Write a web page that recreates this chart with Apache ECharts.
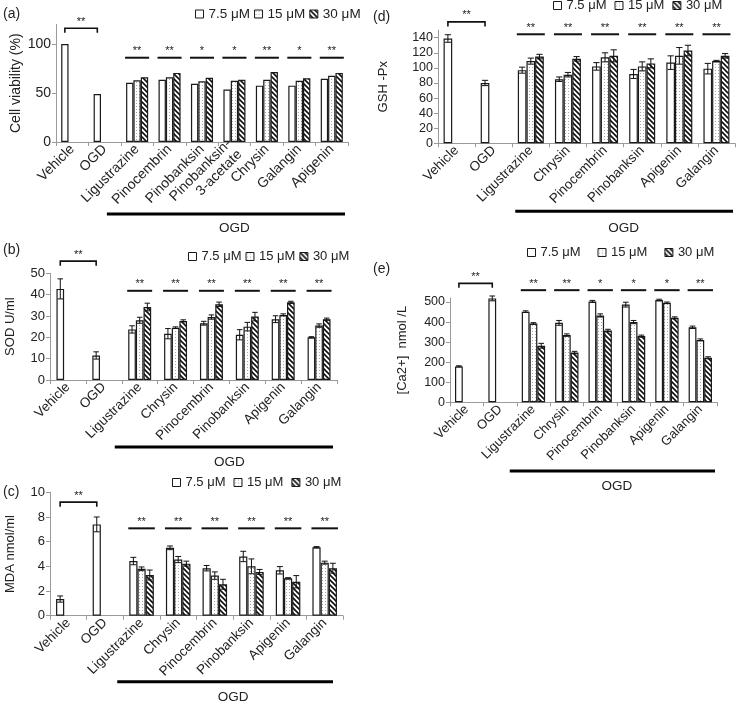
<!DOCTYPE html>
<html><head><meta charset="utf-8">
<script src="https://cdn.jsdelivr.net/npm/echarts@6/dist/echarts.min.js"></script>
<style>html,body{margin:0;padding:0;background:#fff}#c{width:736px;height:703px}</style>
</head><body><div id="c"></div>
<script>
const FONT = '"Liberation Sans", Arial, sans-serif';
const doseNames = ['7.5 μM', '15 μM', '30 μM'];
const catsA = ['Vehicle', 'OGD', 'Ligustrazine', 'Pinocembrin', 'Pinobanksin', 'Pinobanksin-\n3-acetate', 'Chrysin', 'Galangin', 'Apigenin'];
const catsBE = ['Vehicle', 'OGD', 'Ligustrazine', 'Chrysin', 'Pinocembrin', 'Pinobanksin', 'Apigenin', 'Galangin'];
const groupLabel = 'OGD';
const bracketLabel = '**';

// (a) Cell viability (%)
const aLow  = [100, 49, 60.5, 63.5, 59.5, 53.5, 57.5, 57.5, 64.5];
const aMid  = [null, null, 63, 66, 62, 62.5, 63.5, 62.5, 67.5];
const aHigh = [null, null, 66, 70.5, 65.5, 63.5, 71.5, 65, 70.5];
const aSig  = ['**', '**', '*', '*', '**', '*', '**'];

// (b) SOD U/ml
const bLow     = [42.7, 11.5, 23.7, 21.7, 26.6, 21.2, 28.5, 20];
const bLowErr  = [4.7, 1.7, 1.7, 2.4, 0.9, 2.4, 1.6, 0.3];
const bMid     = [null, null, 28, 24.5, 29.5, 25, 30.5, 25.5];
const bMidErr  = [null, null, 1.4, 0.4, 1, 2, 0.5, 0.8];
const bHigh    = [null, null, 34.2, 27.7, 35.5, 29.7, 36.4, 28.5];
const bHighErr = [null, null, 1.8, 0.5, 1, 2, 0.5, 0.5];
const bSig = ['**', '**', '**', '**', '**', '**'];

// (c) MDA nmol/ml
const cLow     = [1.35, 7.4, 4.43, 5.5, 3.85, 4.8, 3.68, 5.55];
const cLowErr  = [0.25, 0.6, 0.3, 0.15, 0.22, 0.42, 0.3, 0.05];
const cMid     = [null, null, 3.8, 4.55, 3.25, 4.0, 3.03, 4.3];
const cMidErr  = [null, null, 0.15, 0.25, 0.3, 0.6, 0.05, 0.12];
const cHigh    = [null, null, 3.3, 4.22, 2.55, 3.55, 2.75, 3.85];
const cHighErr = [null, null, 0.4, 0.2, 0.4, 0.2, 0.5, 0.4];
const cSig = ['**', '**', '**', '**', '**', '**'];

// (d) GSH-Px
const dLow     = [139, 80, 97, 85, 102, 92, 107, 99];
const dLowErr  = [5, 3.5, 4, 3, 5, 6, 9, 7];
const dMid     = [null, null, 109, 91, 114, 102, 116, 109];
const dMidErr  = [null, null, 4, 3, 6, 6, 11, 1];
const dHigh    = [null, null, 115, 112, 116, 106, 123, 116];
const dHighErr = [null, null, 3, 3, 8, 6, 7, 3];
const dSig = ['**', '**', '**', '**', '**', '**'];

// (e) [Ca2+] nmol/L
const eLow     = [179, 518, 452, 396, 503, 487, 510, 374];
const eLowErr  = [3, 12, 4, 12, 5, 12, 4, 6];
const eMid     = [null, null, 393, 335, 433, 400, 496, 311];
const eMidErr  = [null, null, 4, 6, 8, 8, 4, 5];
const eHigh    = [null, null, 282, 248, 358, 330, 421, 222];
const eHighErr = [null, null, 12, 6, 6, 5, 5, 5];
const eSig = ['**', '**', '*', '*', '*', '**'];

// layout (positions/styles only)
const panels = [
  {tag: '(a)', cats: catsA, vals: [aLow, aMid, aHigh], errs: null, sig: aSig, yName: 'Cell viability (%)',
   grid: {left: 56, top: 24.4, width: 292, height: 117.6}, yMax: 120, yInt: 50, gap: 0.32,
   fs: 14, yfs: 14, nfs: 14, nameGap: 33, bracketY: 116, sigY: 86, ogdOff: 72, ogdTextOff: 86, ogdPad: 14, ogdEnd: 3,
   legend: {left: 195, top: 7, itemGap: 4, textStyle: {fontSize: 13.5, color: '#222', fontFamily: FONT}}, tagPos: [3, 7]},
  {tag: '(b)', cats: catsBE, vals: [bLow, bMid, bHigh], errs: [bLowErr, bMidErr, bHighErr], sig: bSig, yName: 'SOD U/ml',
   grid: {left: 50, top: 273.3, width: 287, height: 106.7}, yMax: 50, yInt: 10, gap: 0.36,
   fs: 13.5, yfs: 13, nfs: 13, nameGap: 33, bracketY: 55.7, sigY: 41.8, ogdOff: 67, ogdTextOff: 82, ogdPad: 7, ogdEnd: 4,
   legend: {left: 188, top: 250, itemGap: 4}, tagPos: [3, 243]},
  {tag: '(c)', cats: catsBE, vals: [cLow, cMid, cHigh], errs: [cLowErr, cMidErr, cHighErr], sig: cSig, yName: 'MDA nmol/ml',
   grid: {left: 50, top: 492.3, width: 293, height: 123.4}, yMax: 10, yInt: 2, gap: 0.33,
   fs: 13.5, yfs: 13, nfs: 13, nameGap: 33, bracketY: 9.2, sigY: 7.08, ogdOff: 66, ogdTextOff: 82, ogdPad: 6, ogdEnd: 10,
   legend: {left: 172, top: 476, itemGap: 8}, tagPos: [3, 485]},
  {tag: '(d)', cats: catsBE, vals: [dLow, dMid, dHigh], errs: [dLowErr, dMidErr, dHighErr], sig: dSig, yName: 'GSH -Px',
   grid: {left: 438, top: 30.2, width: 297, height: 113.1}, yMax: 150, yInt: 20, gap: 0.3,
   fs: 13.5, yfs: 12.5, nfs: 13, nameGap: 48, bracketY: 161, sigY: 144.6, ogdOff: 68, ogdTextOff: 85, ogdPad: -3, ogdEnd: 2,
   legend: {left: 553, top: -1, itemGap: 8}, tagPos: [373, 10]},
  {tag: '(e)', cats: catsBE, vals: [eLow, eMid, eHigh], errs: [eLowErr, eMidErr, eHighErr], sig: eSig, yName: '[Ca2+]  nmol /L',
   grid: {left: 450, top: 298, width: 267, height: 104.3}, yMax: 520, yInt: 100, gap: 0.3,
   fs: 13, yfs: 12.5, nfs: 13, nameGap: 41, bracketY: 593, sigY: 559, ogdOff: 68.7, ogdTextOff: 84.4, ogdPad: 7, ogdEnd: 2,
   legend: {left: 527, top: 246, itemGap: 17}, tagPos: [373, 262]}
];

function makePattern(kind) {
  const s = kind === 'hatch' ? 5 : 3;
  const cv = document.createElement('canvas');
  cv.width = s; cv.height = s;
  const ctx = cv.getContext('2d');
  ctx.fillStyle = '#fff';
  ctx.fillRect(0, 0, s, s);
  if (kind === 'dots') {
    ctx.fillStyle = '#a8a8a8';
    ctx.fillRect(1, 1, 1, 1);
  } else {
    ctx.strokeStyle = '#111';
    ctx.lineWidth = 1.6;
    ctx.beginPath();
    for (let k = -1; k <= 1; k++) {
      ctx.moveTo(k * s - 1, -1);
      ctx.lineTo(k * s + s + 1, s + 1);
    }
    ctx.stroke();
  }
  return {image: cv, repeat: 'repeat'};
}
const fills = ['#fff', makePattern('dots'), makePattern('hatch')];

const AX = '#9a9a9a';
const option = {animation: false, textStyle: {fontFamily: FONT}, grid: [], xAxis: [], yAxis: [], series: [], legend: [], graphic: []};

panels.forEach((p, i) => {
  option.grid.push(Object.assign({}, p.grid));
  option.xAxis.push({
    type: 'category', gridIndex: i, data: p.cats,
    axisLine: {lineStyle: {color: AX}},
    axisTick: {show: true, length: 4, alignWithLabel: false, lineStyle: {color: AX}},
    axisLabel: {interval: 0, rotate: 45, fontSize: p.fs, color: '#222', margin: 5, fontFamily: FONT, lineHeight: p.fs + 1}
  });
  option.yAxis.push({
    type: 'value', gridIndex: i, min: 0, max: p.yMax, interval: p.yInt,
    name: p.yName, nameLocation: 'middle', nameGap: p.nameGap,
    nameTextStyle: {fontSize: p.nfs, color: '#222', fontFamily: FONT},
    axisLine: {show: true, lineStyle: {color: AX}},
    axisTick: {show: true, length: 4, lineStyle: {color: AX}},
    splitLine: {show: false},
    axisLabel: {fontSize: p.yfs, color: '#222', margin: 5, fontFamily: FONT, showMaxLabel: p.yMax % p.yInt === 0}
  });
  p.vals.forEach((vals, si) => {
    option.series.push({
      type: 'bar', name: doseNames[si], xAxisIndex: i, yAxisIndex: i, data: vals,
      barGap: '0%', barCategoryGap: (p.gap * 100) + '%', silent: true,
      itemStyle: {color: fills[si], borderColor: '#1a1a1a', borderWidth: 1.2}
    });
  });
  const gap = p.gap;
  if (p.errs) {
    const ed = [];
    p.vals.forEach((vals, si) => vals.forEach((v, ci) => {
      if (v != null && p.errs[si][ci] != null) ed.push([ci, v, p.errs[si][ci], si]);
    }));
    option.series.push({
      type: 'custom', xAxisIndex: i, yAxisIndex: i, silent: true, z: 5, data: ed,
      encode: {x: 0, y: 1},
      renderItem: (params, api) => {
        const ci = api.value(0), v = api.value(1), e = api.value(2), si = api.value(3);
        const cw = api.size([1, 0])[0];
        const bw = cw * (1 - gap) / 3;
        const x = api.coord([ci, v])[0] + (si - 1) * bw;
        const yt = api.coord([ci, v + e])[1], yb = api.coord([ci, v - e])[1];
        const hw = bw * 0.36;
        const st = {stroke: '#111', lineWidth: 1};
        return {type: 'group', children: [
          {type: 'line', shape: {x1: x, y1: yt, x2: x, y2: yb}, style: st},
          {type: 'line', shape: {x1: x - hw, y1: yt, x2: x + hw, y2: yt}, style: st},
          {type: 'line', shape: {x1: x - hw, y1: yb, x2: x + hw, y2: yb}, style: st}
        ]};
      }
    });
  }
  const sd = p.sig.map((s, k) => [k + 2, p.sigY]);
  const sigLabels = p.sig;
  option.series.push({
    type: 'custom', xAxisIndex: i, yAxisIndex: i, silent: true, clip: false, z: 6, data: sd,
    encode: {x: 0, y: 1},
    renderItem: (params, api) => {
      const ci = api.value(0), y = api.value(1);
      const cw = api.size([1, 0])[0];
      const half = cw * (1 - gap) / 2 + 1;
      const pt = api.coord([ci, y]);
      return {type: 'group', children: [
        {type: 'line', shape: {x1: pt[0] - half, y1: pt[1], x2: pt[0] + half, y2: pt[1]}, style: {stroke: '#111', lineWidth: 2}},
        {type: 'text', style: {text: sigLabels[params.dataIndex], x: pt[0], y: pt[1] - 1, align: 'center', verticalAlign: 'bottom',
          textAlign: 'center', textVerticalAlign: 'bottom', fill: '#222', font: '11px ' + FONT}}
      ]};
    }
  });
  option.series.push({
    type: 'custom', xAxisIndex: i, yAxisIndex: i, silent: true, clip: false, z: 6, data: [[0, p.bracketY]],
    encode: {x: 0, y: 1},
    renderItem: (params, api) => {
      const y = api.value(1);
      const cw = api.size([1, 0])[0];
      const bw = cw * (1 - gap) / 3;
      const p0 = api.coord([0, y]), p1 = api.coord([1, y]);
      const x0 = p0[0] - bw, x1 = p1[0] - bw, yy = p0[1];
      const st = {stroke: '#111', lineWidth: 1.6, fill: null};
      return {type: 'group', children: [
        {type: 'polyline', shape: {points: [[x0, yy + 4.5], [x0, yy], [x1, yy], [x1, yy + 4.5]]}, style: st},
        {type: 'text', style: {text: bracketLabel, x: (x0 + x1) / 2, y: yy - 1, align: 'center', verticalAlign: 'bottom',
          textAlign: 'center', textVerticalAlign: 'bottom', fill: '#222', font: '11px ' + FONT}}
      ]};
    }
  });
  const nC = p.cats.length;
  const pad = p.ogdPad, endPad = p.ogdEnd, off = p.ogdOff, tOff = p.ogdTextOff;
  option.series.push({
    type: 'custom', xAxisIndex: i, yAxisIndex: i, silent: true, clip: false, z: 6, data: [[2, 0]],
    encode: {x: 0, y: 1},
    renderItem: (params, api) => {
      const cw = api.size([1, 0])[0];
      const a = api.coord([2, 0]), b = api.coord([nC - 1, 0]);
      const xs = a[0] - cw / 2, xe = b[0] + cw / 2;
      const y = a[1] + off;
      return {type: 'group', children: [
        {type: 'line', shape: {x1: xs - pad, y1: y, x2: xe - endPad, y2: y}, style: {stroke: '#000', lineWidth: 3}},
        {type: 'text', style: {text: groupLabel, x: (xs + xe) / 2, y: a[1] + tOff, align: 'center', verticalAlign: 'middle',
          textAlign: 'center', textVerticalAlign: 'middle', fill: '#222', font: '13.5px ' + FONT}}
      ]};
    }
  });
  option.legend.push(Object.assign({
    data: doseNames, icon: 'rect', itemWidth: 8, itemHeight: 8, padding: 0,
    textStyle: {fontSize: 13, color: '#222', fontFamily: FONT}, selectedMode: false,
    itemStyle: {borderWidth: 1}
  }, p.legend));
  option.graphic.push({type: 'text', left: p.tagPos[0], top: p.tagPos[1], style: {text: p.tag, font: '14px ' + FONT, fill: '#222'}});
});

const chart = echarts.init(document.getElementById('c'), null, {renderer: 'canvas'});
chart.setOption(option);
</script>
</body></html>
